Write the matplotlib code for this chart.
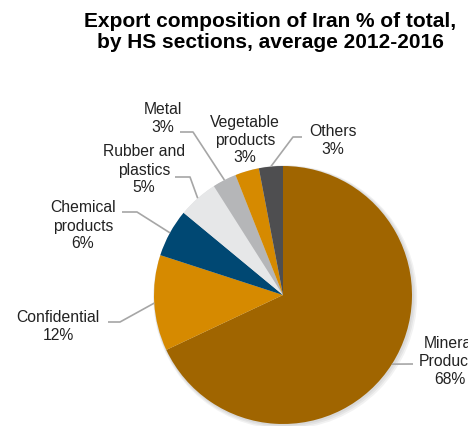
import numpy as np
import matplotlib
matplotlib.use("Agg")
import matplotlib.pyplot as plt
from matplotlib.patches import Circle

categories = ["Mineral\nProducts", "Confidential", "Chemical\nproducts", "Rubber and\nplastics",
              "Metal", "Vegetable\nproducts", "Others"]
values = [68, 12, 6, 5, 3, 3, 3]
colors = ["#A06500", "#D68A00", "#004873", "#E6E7E8", "#B5B6B8", "#D68A00", "#4E4E50"]

W, H = 468, 426
fig = plt.figure(figsize=(W / 100, H / 100), dpi=100)
ax = fig.add_axes([0, 0, 1, 1])

cx, cy, R = 283, H - 295, 129

# soft shadow behind pie
for i, a in enumerate([0.05, 0.05, 0.05]):
    ax.add_patch(Circle((cx + 1 + i * 0.6, cy - 1 - i * 0.6), R + 1 + i, color="black", alpha=a, lw=0, zorder=0))

wedges, _ = ax.pie(values, colors=colors, startangle=90, counterclock=False,
                   center=(cx, cy), radius=R, wedgeprops=dict(linewidth=0), frame=True)
ax.set_xlim(0, W)
ax.set_ylim(0, H)
ax.set_aspect("equal")
ax.axis("off")

# label layout (pixel positions, y measured from top): text center, leader elbow, leader end
layout = [
    dict(text=(450, 361), elbow=None, end=(413, 364)),
    dict(text=(58, 327), elbow=(120, 322), end=(108, 322)),
    dict(text=(83, 226), elbow=(137, 212), end=(122, 212)),
    dict(text=(144, 170), elbow=(190, 177), end=(175, 177)),
    dict(text=(163, 118), elbow=(193, 132), end=(180, 132)),
    dict(text=(245, 140), elbow=None, end=None),
    dict(text=(333, 141), elbow=(293, 137), end=(302, 137)),
]

for w, cat, val, lay in zip(wedges, categories, values, layout):
    tx, ty = lay["text"]
    ax.text(tx, H - ty, f"{cat}\n{val}%", ha="center", va="center", multialignment="center",
            fontsize=11.3, family="Liberation Sans", color="#222222", linespacing=1.25, zorder=5)
    if lay["end"] is not None:
        mid = np.deg2rad((w.theta1 + w.theta2) / 2)
        ex, ey = cx + R * np.cos(mid), cy + R * np.sin(mid)
        xs, ys = [ex], [ey]
        if lay["elbow"] is not None:
            xs.append(lay["elbow"][0]); ys.append(H - lay["elbow"][1])
        xs.append(lay["end"][0]); ys.append(H - lay["end"][1])
        ax.plot(xs, ys, color="#A6A6A6", lw=1.2, zorder=4, solid_capstyle="butt")

fig.text(270 / W, 1 - 12 / H, "Export composition of Iran % of total,\nby HS sections, average 2012-2016",
         ha="center", va="top", fontsize=15, fontweight="bold", family="Liberation Sans",
         color="black", linespacing=1.1)

fig.savefig("out.png", dpi=100)
